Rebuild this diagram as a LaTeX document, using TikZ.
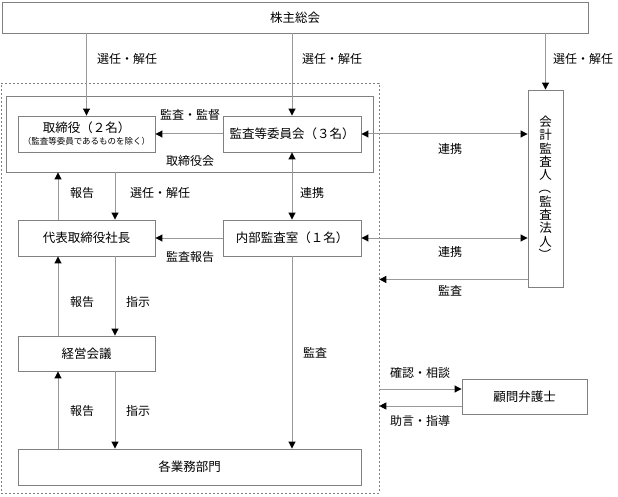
\documentclass[tikz,border=0pt]{standalone}
\usepackage{fontspec}
\setmainfont{Noto Sans CJK JP}
\usetikzlibrary{arrows.meta}

\begin{document}
\begin{tikzpicture}[
x=1pt, y=-1pt,
box/.style={draw=black!50, line width=0.9pt, rectangle, inner sep=0pt,
font=\fontsize{12.5}{15}\selectfont, align=center},
lbl/.style={font=\fontsize{12}{14}\selectfont, inner sep=0pt},
arrow/.style={-{Triangle[length=7pt, width=7pt, color=black]}, draw=black!40, line width=1pt},
arrowboth/.style={{Triangle[length=7pt, width=7pt, color=black]}-{Triangle[length=7pt, width=7pt, color=black]}, draw=black!40, line width=1pt}
]
\useasboundingbox (0,0) rectangle (618,497);

% boxes
\node[box, minimum width=586pt, minimum height=31pt] (soukai) at (295,17.5) {株主総会};
\node[box, dash pattern=on 2pt off 2pt, line width=0.6pt, minimum width=378pt, minimum height=410pt] (group) at (190,288) {};
\node[box, minimum width=367pt, minimum height=76pt] (torikai) at (189.5,134) {};
\node[lbl] (torikailbl) at (190,161) {取締役会};
\node[box, minimum width=137pt, minimum height=36pt] (tori) at (86.5,134)
{取締役（２名）\\[-3pt]{\fontsize{8.5}{10}\selectfont （監査等委員であるものを除く）}};
\node[box, minimum width=138pt, minimum height=36pt] (kansa) at (292,134) {監査等委員会（３名）};
\node[box, minimum width=137pt, minimum height=36pt] (daihyo) at (86.5,238) {代表取締役社長};
\node[box, minimum width=138pt, minimum height=36pt] (naibu) at (292,238) {内部監査室（１名）};
\node[box, minimum width=137pt, minimum height=35pt] (keiei) at (86.5,353.5) {経営会議};
\node[box, minimum width=343pt, minimum height=36pt] (gyomu) at (189.5,467) {各業務部門};
\node[box, minimum width=35pt, minimum height=197pt, font=\fontsize{12.5}{13.3}\selectfont] (kaikei) at (545.5,188.5)
{会\\計\\監\\査\\人\\\rotatebox[origin=c]{-90}{（}\\監\\査\\法\\人\\\rotatebox[origin=c]{-90}{）}};
\node[box, minimum width=125pt, minimum height=35pt] (bengo) at (524.5,396.5) {顧問弁護士};

% connectors
\draw[arrow] (soukai.south -| tori) -- (tori.north);
\draw[arrow] (soukai.south -| kansa) -- (kansa.north);
\draw[arrow] (soukai.south -| kaikei) -- (kaikei.north);
\draw[arrow] (kansa.west) -- (tori.east);
\draw[arrowboth] (kansa.east) -- (kansa.east -| kaikei.west);
\draw[arrowboth] (kansa.south) -- (naibu.north);
\draw[arrow] ([xshift=-28.5pt]daihyo.north) -- ([xshift=-28.5pt]daihyo.north |- torikai.south);
\draw[arrow] ([xshift=28.5pt]daihyo.north |- torikai.south) -- ([xshift=28.5pt]daihyo.north);
\draw[arrow] (naibu.west) -- (daihyo.east);
\draw[arrowboth] (naibu.east) -- (naibu.east -| kaikei.west);
\coordinate (kaikeiout) at ([yshift=8pt]kaikei.south west);
\draw[arrow] (kaikeiout) -- (kaikeiout -| group.east);
\draw[arrow] ([xshift=-28.5pt]keiei.north) -- ([xshift=-28.5pt]daihyo.south);
\draw[arrow] ([xshift=28.5pt]daihyo.south) -- ([xshift=28.5pt]keiei.north);
\draw[arrow] ([xshift=-28.5pt]keiei.south |- gyomu.north) -- ([xshift=-28.5pt]keiei.south);
\draw[arrow] ([xshift=28.5pt]keiei.south) -- ([xshift=28.5pt]keiei.south |- gyomu.north);
\draw[arrow] (naibu.south) -- (naibu.south |- gyomu.north);
\coordinate (bengoin) at ([yshift=7.5pt]bengo.west);
\coordinate (bengoout) at ([yshift=-9.5pt]bengo.west);
\draw[arrow] (group.east |- bengoin) -- (bengoin);
\draw[arrow] (bengoout) -- (group.east |- bengoout);

% labels
\node[lbl] (sennin1) at (127,59) {選任・解任};
\node[lbl] (sennin2) at (332,59) {選任・解任};
\node[lbl] (sennin3) at (583,59) {選任・解任};
\node[lbl] (kansakantoku) at (190,115) {監査・監督};
\node[lbl] (houkoku1) at (82,193) {報告};
\node[lbl] (sennin4) at (160,193) {選任・解任};
\node[lbl] (renkei1) at (312,193) {連携};
\node[lbl] (kansahoukoku) at (190,257) {監査報告};
\node[lbl] (renkei2) at (450,149) {連携};
\node[lbl] (renkei3) at (450,252) {連携};
\node[lbl] (kansa1) at (450,291) {監査};
\node[lbl] (houkoku2) at (82,302) {報告};
\node[lbl] (shiji1) at (138,302) {指示};
\node[lbl] (kansa2) at (315,353) {監査};
\node[lbl] (houkoku3) at (82,411) {報告};
\node[lbl] (shiji2) at (138,411) {指示};
\node[lbl] (kakunin) at (420,373) {確認・相談};
\node[lbl] (jogen) at (420,421) {助言・指導};
\end{tikzpicture}
\end{document}
